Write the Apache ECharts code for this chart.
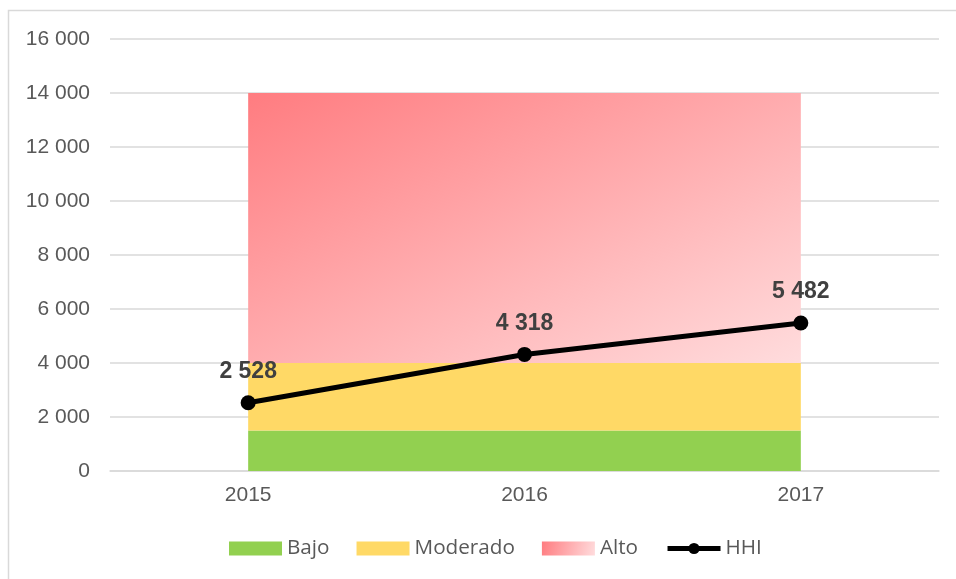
<!DOCTYPE html>
<html>
<head>
<meta charset="utf-8">
<script src="https://cdn.jsdelivr.net/npm/echarts@6/dist/echarts.min.js"></script>
<style>
html,body{margin:0;padding:0;background:#fff;}
#c{width:956px;height:579px;}
</style>
</head>
<body>
<div id="c"></div>
<script>
const years = ['2015', '2016', '2017'];
const bajo = [1500, 1500, 1500];
const moderado = [2500, 2500, 2500];
const alto = [10000, 10000, 10000];
const hhi = [2528, 4318, 5482];
const yMin = 0, yMax = 16000, yStep = 2000;

function fmt(v) {
  return String(v).replace(/\B(?=(\d{3})+(?!\d))/g, ' ');
}

const chart = echarts.init(document.getElementById('c'), null, {renderer: 'canvas'});
const areaBase = {
  type: 'line',
  stack: 'zones',
  symbol: 'none',
  showSymbol: false,
  lineStyle: {width: 0, opacity: 0},
  silent: true,
  z: 1
};
const altoGrad = () => new echarts.graphic.LinearGradient(0, 0, 0.386, 1.615, [
  {offset: 0, color: '#ff7c80'}, {offset: 1, color: '#ffdcdd'}]);
const legendGrad = new echarts.graphic.LinearGradient(0, 0, 1, 1, [
  {offset: 0, color: '#ff7c80'}, {offset: 1, color: '#ffdcdd'}]);
chart.setOption({
  animation: false,
  backgroundColor: '#fff',
  graphic: [{
    type: 'rect',
    shape: {x: 8.5, y: 10.5, width: 1200, height: 1000},
    style: {fill: 'none', stroke: '#d9d9d9', lineWidth: 1.5},
    z: -10
  }],
  grid: {left: 110, right: 17, top: 39, bottom: 108},
  legend: {
    left: 229,
    top: 538,
    padding: 0,
    itemWidth: 53,
    itemHeight: 14,
    itemGap: 27,
    textStyle: {fontFamily: 'Open Sans', fontSize: 20.7, color: '#595959'},
    data: [
      {name: 'Bajo', icon: 'rect'},
      {name: 'Moderado', icon: 'rect'},
      {name: 'Alto', icon: 'rect', itemStyle: {color: legendGrad}},
      {name: 'HHI', lineStyle: {width: 5, color: '#000'}, itemStyle: {color: '#000'}}
    ]
  },
  xAxis: {
    type: 'category',
    data: years,
    boundaryGap: true,
    axisLine: {lineStyle: {color: '#d9d9d9', width: 1.5}},
    axisTick: {show: false},
    axisLabel: {fontFamily: 'Liberation Sans', fontSize: 21, color: '#595959', margin: 14}
  },
  yAxis: {
    type: 'value',
    min: yMin, max: yMax, interval: yStep,
    axisLine: {show: false},
    axisTick: {show: false},
    splitLine: {lineStyle: {color: '#d9d9d9', width: 1.5}},
    axisLabel: {fontFamily: 'Liberation Sans', fontSize: 21, color: '#595959', margin: 20, formatter: fmt}
  },
  series: [
    Object.assign({}, areaBase, {
      name: 'Bajo', data: bajo,
      itemStyle: {color: '#92d050'},
      areaStyle: {color: '#92d050', opacity: 1}
    }),
    Object.assign({}, areaBase, {
      name: 'Moderado', data: moderado,
      itemStyle: {color: '#ffd966'},
      areaStyle: {color: '#ffd966', opacity: 1}
    }),
    Object.assign({}, areaBase, {
      name: 'Alto', data: alto,
      itemStyle: {color: '#ff9a9c'},
      areaStyle: {opacity: 1, color: altoGrad()}
    }),
    {
      name: 'HHI', type: 'line', data: hhi, z: 5,
      symbol: 'circle', symbolSize: 15,
      lineStyle: {color: '#000', width: 5},
      itemStyle: {color: '#000'},
      label: {
        show: true, position: 'top', distance: 12,
        fontFamily: 'Liberation Sans', fontWeight: 'bold', fontSize: 23, color: '#404040',
        formatter: p => fmt(p.value)
      }
    }
  ]
});
</script>
</body>
</html>
